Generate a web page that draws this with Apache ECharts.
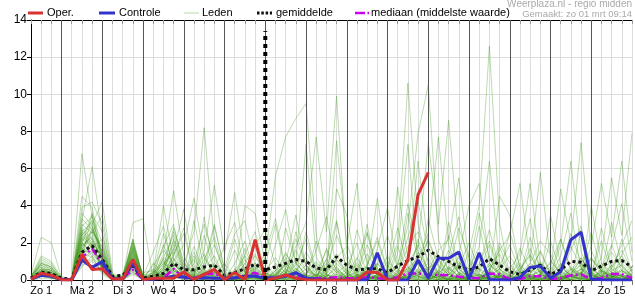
<!DOCTYPE html>
<html>
<head>
<meta charset="utf-8">
<script src="https://cdn.jsdelivr.net/npm/echarts@6/dist/echarts.min.js"></script>
<style>
html,body{margin:0;padding:0;background:#fff;}
#chart{width:635px;height:300px;}
</style>
</head>
<body>
<div id="chart"></div>
<script>
// ---------- DATA ----------
const dayLabels = ['Zo 1','Ma 2','Di 3','Wo 4','Do 5','Vr 6','Za 7','Zo 8','Ma 9','Di 10','Wo 11','Do 12','Vr 13','Za 14','Zo 15'];
const startHour = 6;   // first value: zo 1, 06:00
const stepHours = 6;   // 6-hourly values
const markerHour = 144; // vertical marker (za 7, 00:00)
const markerTop = 13.4;
const yTicks = [0,2,4,6,8,10,12,14];

const oper = [0.05,0.36,0.25, 0.02,0.0,1.38,0.57, 0.6,0.05,0.05,1.11, 0.02,0.1,0.1,0.1, 0.43,0.03,0.3,0.57, 0.02,0.4,0.02,2.17, 0.0,0.1,0.27,0.1, 0.02,0.0,0.0,0.0, 0.0,0.0,0.43,0.4, 0.0,0.0,1.1,4.6, 5.8];
const controle = [0.05,0.25,0.2, 0.02,0.0,1.08,0.68, 0.99,0.05,0.05,0.9, 0.02,0.05,0.1,0.2, 0.15,0.1,0.12,0.1, 0.1,0.12,0.2,0.2, 0.1,0.12,0.2,0.4, 0.1,0.05,0.02,0.0, 0.0,0.0,0.02,1.47, 0.0,0.0,0.02,1.08, 0.1,1.17,1.17,1.5, 0.03,1.47,0.02,0.02, 0.0,0.14,0.68,0.75, 0.1,0.45,2.17,2.58, 0.05,0.02,0.0,0.0, 0.0];
const gemiddelde = [0.1,0.42,0.35, 0.1,0.05,1.5,1.85, 1.1,0.2,0.25,0.75, 0.1,0.2,0.35,0.9, 0.55,0.55,0.7,0.8, 0.25,0.4,0.6,0.85, 0.55,0.7,0.9,1.1, 1.0,0.65,0.55,1.25, 0.8,0.55,0.6,0.6, 0.4,0.75,1.05,1.25, 1.6,1.25,1.0,0.7, 0.55,0.7,1.15,0.8, 0.45,0.3,0.55,0.8, 0.3,0.55,1.0,0.95, 0.5,0.75,1.0,1.05, 0.7];
const mediaan = [0.05,0.3,0.25, 0.05,0.02,1.2,1.7, 0.8,0.1,0.1,0.55, 0.05,0.05,0.1,0.6, 0.1,0.1,0.3,0.35, 0.05,0.1,0.2,0.4, 0.1,0.15,0.25,0.25, 0.1,0.1,0.1,0.15, 0.1,0.1,0.15,0.1, 0.05,0.15,0.35,0.35, 0.3,0.27,0.25,0.18, 0.12,0.1,0.35,0.3, 0.05,0.05,0.2,0.2, 0.05,0.1,0.25,0.3, 0.05,0.1,0.32,0.32, 0.1];

const lid01 = [0.1,0.4,0.3, 0.0,0.0,1.8,2.2, 1.1,0.1,0.0,1.4, 0.1,0.2,0.5,1.2, 0.3,0.1,0.4,0.8, 0.2,0.0,0.3,0.6, 0.1,0.3,0.9,0.4, 0.1,0.0,0.2,0.7, 0.1,0.0,0.0,0.3, 0.0,0.4,1.8,2.6, 1.0,0.4,0.7,0.2, 1.5,4.0,12.6,3.1, 0.2,0.1,0.4,0.9, 0.1,0.0,0.3,1.1, 0.6,0.2,0.1,0.5, 0.3];
const lid02 = [0.3,2.3,2.0, 0.1,0.0,2.6,3.1, 0.9,0.0,0.1,1.6, 0.0,0.3,1.2,2.4, 0.6,0.2,0.1,0.4, 0.0,0.1,0.5,1.3, 0.3,0.0,0.2,0.6, 0.2,0.1,1.1,3.2, 0.4,0.0,0.2,0.1, 0.0,0.3,0.6,1.2, 2.1,0.7,0.3,0.1, 0.0,0.2,0.8,0.4, 0.1,0.6,1.4,0.3, 0.0,0.1,0.2,0.9, 0.4,0.1,0.8,1.6, 0.5];
const lid03 = [0.0,0.6,0.4, 0.0,0.1,6.8,3.4, 1.2,0.2,0.0,0.8, 0.0,0.1,0.3,0.6, 0.2,0.0,0.7,1.9, 0.4,0.1,0.0,0.2, 0.0,0.5,1.4,0.6, 0.1,0.0,0.4,1.1, 0.3,1.2,0.2,0.0, 0.0,0.0,0.3,0.9, 0.2,0.1,0.5,2.8, 1.2,0.3,0.1,0.0, 0.0,0.2,0.6,1.5, 0.3,0.0,0.1,0.4, 1.2,0.3,0.0,0.1, 0.2];
const lid04 = [0.2,0.8,0.5, 0.1,0.0,3.2,6.1, 2.4,0.3,0.1,2.1, 0.2,0.0,0.8,1.6, 3.8,0.6,0.2,0.1, 0.0,0.4,1.1,0.3, 0.1,0.0,0.6,2.2, 0.8,0.2,0.0,0.1, 0.0,0.3,1.4,0.5, 0.2,0.0,0.1,0.4, 0.9,0.3,0.0,0.0, 0.2,0.9,2.1,0.6, 0.1,0.0,0.3,0.2, 0.0,0.4,1.8,0.7, 0.1,0.0,0.2,0.3, 0.1];
const lid05 = [0.1,1.1,0.8, 0.2,0.0,4.5,3.9, 1.2,0.0,0.2,2.2, 0.1,0.4,4.0,1.1, 0.2,0.0,0.3,0.5, 0.1,0.0,0.2,0.8, 0.4,0.2,0.0,0.3, 1.5,0.6,0.1,0.0, 0.2,0.9,0.3,0.0, 0.1,0.5,0.2,0.0, 0.0,0.3,1.1,0.4, 0.0,0.0,0.2,0.6, 1.3,0.4,0.1,0.0, 0.3,0.8,0.2,0.1, 0.0,0.6,1.9,0.5, 0.2];
const lid06 = [0.0,0.3,0.2, 0.0,0.0,2.4,3.0, 4.2,0.4,0.0,1.0, 0.0,0.2,1.4,4.8, 1.3,0.2,0.0,0.4, 0.1,0.0,0.9,0.2, 0.0,0.1,0.3,0.1, 0.0,0.0,0.6,1.4, 0.3,0.1,0.0,0.2, 1.0,0.4,0.1,0.0, 0.0,0.2,0.3,0.9, 0.6,0.1,0.0,0.2, 0.4,0.1,0.0,0.3, 0.9,2.2,0.6,0.1, 0.0,0.1,0.4,0.2, 0.0];
const lid07 = [0.1,0.5,0.4, 0.0,0.0,1.6,2.8, 1.5,0.1,0.0,1.8, 0.3,0.1,0.6,2.1, 0.8,2.6,8.2,2.0, 0.3,0.1,0.0,0.2, 0.0,0.0,0.4,1.6, 0.5,0.1,0.0,0.0, 0.2,0.0,0.3,1.3, 0.4,0.1,0.0,0.6, 2.2,0.8,0.3,0.0, 0.0,0.1,0.5,0.2, 0.0,0.3,0.9,0.4, 0.1,0.0,0.0,0.3, 1.1,0.5,0.2,0.0, 0.1];
const lid08 = [0.2,0.9,0.6, 0.1,0.0,3.0,2.5, 3.5,0.2,0.1,3.1, 3.3,0.0,0.2,1.0, 1.9,4.4,1.2,0.3, 0.0,0.2,0.6,0.1, 0.0,0.0,0.1,0.5, 1.2,0.3,0.0,0.1, 0.0,0.2,0.5,0.1, 0.0,0.0,0.2,1.5, 0.6,1.1,0.4,0.0, 0.2,0.0,0.1,0.3, 0.0,0.1,0.6,0.2, 0.3,0.0,0.0,0.1, 0.4,0.2,0.7,1.3, 0.4];
const lid09 = [0.0,0.2,0.1, 0.0,0.0,1.2,1.9, 0.6,0.0,0.3,1.2, 0.4,0.5,0.1,0.3, 0.1,0.4,1.6,5.1, 1.4,4.7,1.1,0.2, 0.0,0.3,0.8,0.2, 0.0,0.1,0.0,0.4, 0.8,0.2,0.0,0.0, 0.3,0.1,0.7,0.2, 0.0,0.0,0.4,1.2, 0.3,0.6,0.1,0.0, 0.2,1.7,0.5,0.0, 0.1,0.3,0.2,0.6, 0.0,0.2,0.1,0.0, 0.3];
const lid10 = [0.1,0.4,0.2, 0.0,0.1,2.0,1.4, 0.8,0.1,0.0,0.6, 0.0,0.3,0.9,0.5, 0.2,0.0,0.5,2.9, 0.6,0.3,4.0,3.6, 0.9,0.2,0.0,0.1, 0.4,1.0,0.3,0.0, 0.0,0.1,0.2,0.5, 0.1,0.0,0.0,0.3, 0.6,0.2,0.0,0.1, 0.0,0.4,1.3,0.3, 0.0,0.0,0.2,0.5, 0.1,0.6,0.3,0.0, 0.0,0.2,0.5,0.8, 0.2];
const lid11 = [0.0,0.1,0.1, 0.0,0.0,0.9,1.1, 0.5,0.0,0.0,0.4, 0.0,0.0,0.2,0.7, 0.1,0.0,0.3,0.4, 0.0,0.2,0.1,0.5, 1.2,5.6,7.7,8.7, 9.5,2.4,0.3,0.1, 0.0,0.2,0.6,0.1, 0.0,0.0,0.1,0.2, 0.0,0.3,0.1,0.0, 0.2,0.0,0.4,0.1, 0.0,0.1,0.0,0.3, 0.7,0.2,0.0,0.0, 0.1,0.4,0.2,0.1, 0.0];
const lid12 = [0.1,0.6,0.3, 0.0,0.0,2.2,1.8, 0.7,0.1,0.2,1.5, 0.1,0.0,0.4,0.9, 0.3,0.1,0.0,0.6, 0.2,0.0,0.4,0.2, 0.0,0.6,0.3,1.8, 3.1,7.7,2.6,9.9, 1.4,0.2,0.0,0.3, 0.0,0.1,0.5,0.2, 0.1,0.0,0.0,0.4, 0.2,0.1,0.9,0.3, 0.0,0.2,0.1,0.0, 0.4,0.1,0.3,1.2, 0.3,0.0,0.1,0.2, 0.1];
const lid13 = [0.0,0.4,0.3, 0.1,0.0,1.4,2.6, 1.8,0.0,0.1,1.1, 0.2,0.6,0.2,0.0, 0.4,1.1,0.3,0.1, 0.0,0.0,0.7,1.4, 0.3,0.1,2.8,0.9, 7.3,1.2,0.4,7.5, 2.0,0.3,0.1,0.0, 0.2,1.4,7.3,0.8, 0.3,0.1,0.0,0.2, 0.5,0.2,0.0,0.0, 0.3,0.9,0.2,0.1, 0.0,0.1,0.5,0.2, 0.0,0.3,0.8,0.2, 0.0];
const lid14 = [0.2,0.7,0.4, 0.0,0.0,1.9,2.3, 1.0,0.2,0.0,0.9, 0.0,0.1,0.6,1.7, 0.5,0.1,0.2,0.0, 0.3,1.6,0.4,0.1, 0.0,0.2,0.5,0.3, 0.0,0.4,1.6,0.5, 0.1,0.0,0.8,2.3, 0.6,2.0,10.6,3.0, 0.8,0.2,0.1,0.0, 0.0,0.6,0.3,0.1, 0.0,0.0,0.3,1.0, 0.2,0.1,0.0,0.4, 0.1,0.0,0.2,0.6, 0.3];
const lid15 = [0.0,0.3,0.2, 0.0,0.0,2.7,2.0, 1.3,0.0,0.1,1.3, 0.2,0.0,0.1,0.5, 0.3,1.5,0.4,0.2, 0.0,0.1,0.3,0.9, 0.4,0.0,0.1,0.6, 0.2,0.0,0.3,1.1, 0.5,0.2,0.0,0.1, 0.4,0.8,2.9,7.9, 10.5,2.2,0.4,0.1, 0.0,0.1,0.6,1.4, 0.2,0.0,0.1,0.3, 1.0,0.4,0.2,0.0, 0.0,0.5,0.3,0.1, 0.2];
const lid16 = [0.1,0.5,0.3, 0.0,0.1,1.5,1.2, 0.4,0.1,0.0,0.7, 0.1,0.2,0.3,1.1, 0.7,0.2,0.0,0.1, 0.0,0.5,1.3,0.6, 0.1,0.0,0.0,0.3, 0.8,0.2,0.0,0.2, 0.1,0.6,0.2,0.0, 0.0,0.3,0.9,1.8, 7.4,3.0,8.6,2.1, 0.3,0.0,0.2,0.1, 0.0,0.4,0.2,0.0, 0.1,0.0,0.6,0.3, 0.0,0.1,0.0,0.4, 0.2];
const lid17 = [0.0,0.2,0.2, 0.0,0.0,1.1,1.6, 0.9,0.0,0.0,0.5, 0.0,0.1,0.2,0.4, 0.1,0.0,0.9,3.0, 0.5,0.1,0.0,0.3, 0.6,0.2,0.1,0.0, 0.0,0.3,0.7,0.2, 0.0,0.1,0.3,0.9, 0.3,0.0,0.4,1.2, 2.5,7.7,1.9,0.3, 0.6,1.8,6.4,0.9, 0.1,0.0,0.2,0.5, 0.3,0.1,0.0,0.2, 0.7,0.2,0.1,0.0, 0.1];
const lid18 = [0.1,0.6,0.5, 0.0,0.0,2.5,1.7, 0.6,0.1,0.1,1.9, 0.2,0.0,0.5,0.8, 0.4,0.0,0.1,0.2, 0.9,0.2,0.0,0.1, 0.0,0.4,0.2,0.0, 0.3,0.9,0.2,0.0, 0.0,0.3,0.1,0.2, 0.0,0.2,0.6,0.3, 0.1,0.0,0.3,0.8, 0.2,0.0,0.5,1.6, 2.4,5.2,1.0,5.8, 1.1,0.3,0.0,0.1, 0.0,0.2,0.6,0.2, 0.0];
const lid19 = [0.0,0.4,0.3, 0.1,0.0,1.3,2.1, 1.6,0.0,0.0,0.8, 0.1,0.3,1.9,0.6, 0.2,0.5,0.1,0.0, 0.2,0.0,0.2,0.7, 0.1,0.0,0.4,0.2, 0.0,0.1,0.0,0.5, 0.2,0.0,0.7,0.3, 0.0,0.1,0.2,0.6, 0.3,0.1,0.6,0.2, 0.0,0.3,0.1,0.2, 0.6,1.4,5.2,0.8, 0.2,1.9,6.4,1.5, 0.3,0.0,0.1,0.5, 0.2];
const lid20 = [0.2,0.8,0.6, 0.0,0.0,3.6,2.9, 1.4,0.2,0.0,1.7, 0.0,0.2,0.7,2.6, 0.9,0.3,0.1,0.4, 0.0,0.3,0.6,0.2, 0.1,0.0,0.2,0.9, 0.3,0.1,0.0,0.1, 0.4,0.1,0.0,0.2, 0.6,0.2,0.1,0.0, 0.0,0.5,0.2,0.1, 0.3,0.0,0.0,0.2, 0.1,0.0,0.4,0.9, 0.5,4.9,2.0,7.4, 1.6,0.4,0.2,0.1, 0.0];
const lid21 = [0.0,0.3,0.4, 0.0,0.0,1.7,1.3, 0.3,0.0,0.2,1.0, 0.1,0.0,0.3,0.2, 0.0,0.2,0.6,0.1, 0.0,0.0,0.1,0.4, 0.2,0.0,0.6,0.3, 0.1,0.0,0.2,0.0, 0.3,0.8,0.2,0.1, 0.0,0.0,0.3,0.1, 0.2,0.0,0.1,0.6, 0.1,0.3,0.0,0.0, 0.2,0.5,0.1,0.0, 0.0,0.2,0.7,0.3, 1.8,5.2,2.3,6.4, 1.5];
const lid22 = [0.1,0.4,0.3, 0.0,0.1,2.9,3.4, 2.0,0.1,0.0,0.6, 0.0,0.4,1.0,0.3, 0.1,0.0,0.2,0.5, 0.0,0.1,0.0,0.2, 0.4,0.1,0.0,0.2, 0.6,0.2,0.1,0.0, 0.0,0.5,0.2,0.1, 0.0,0.1,0.0,0.4, 0.7,0.2,0.0,1.3, 4.0,5.2,0.9,0.2, 0.0,0.1,0.3,0.1, 0.0,0.2,0.1,0.4, 0.3,1.2,5.5,2.4, 7.9];
const lid23 = [0.0,0.5,0.4, 0.0,0.0,2.1,2.6, 1.1,0.0,0.1,1.3, 0.0,0.2,0.9,1.5, 0.3,0.1,0.4,0.2, 0.0,0.6,0.2,0.0, 0.1,0.3,0.1,0.4, 0.2,0.0,0.5,1.2, 1.8,5.2,0.6,4.4, 0.8,0.2,0.0,0.1, 0.0,0.3,1.0,0.4, 0.0,0.1,0.2,0.6, 0.2,0.0,0.0,0.3, 0.1,0.5,0.2,0.0, 0.3,0.1,0.4,0.2, 0.0];
const lid24 = [0.1,0.3,0.2, 0.0,0.0,1.8,2.4, 0.9,0.1,0.0,0.9, 0.1,0.0,0.6,0.3, 0.2,0.0,0.3,0.8, 0.3,0.1,0.0,0.4, 0.2,0.9,0.4,0.1, 0.0,0.2,0.6,4.9, 3.5,0.4,3.0,0.2, 0.3,5.0,1.1,6.4, 1.8,0.3,0.0,0.1, 0.2,0.0,0.4,0.2, 0.0,0.2,0.1,0.0, 0.4,0.1,0.6,0.2, 0.0,0.0,0.3,0.5, 0.1];
const lid25 = [0.0,0.2,0.3, 0.0,0.0,1.0,1.5, 1.9,0.0,0.0,0.7, 0.0,0.1,0.1,0.9, 0.4,0.2,0.0,0.1, 0.0,0.0,0.5,0.2, 0.1,0.2,0.0,0.0, 0.3,0.1,0.0,0.3, 0.1,0.0,0.4,0.1, 0.0,0.1,0.3,0.2, 0.5,1.6,2.2,5.5, 1.0,0.2,0.3,4.5, 3.5,0.6,0.2,0.1, 3.5,0.8,0.2,0.0, 4.0,0.9,0.2,0.1, 0.0];
const lid26 = [0.1,0.7,0.5, 0.0,0.0,2.3,1.9, 0.8,0.1,0.0,2.0, 0.1,0.0,0.4,1.9, 0.6,0.1,2.4,0.5, 0.0,0.2,0.9,1.8, 0.3,0.0,0.2,2.6, 0.8,0.1,0.0,0.2, 0.0,1.1,2.5,0.4, 0.0,0.2,0.5,1.9, 0.4,0.0,0.1,0.3, 0.0,0.8,2.7,0.6, 0.0,0.1,0.7,0.2, 0.0,0.3,1.6,2.9, 0.4,0.0,0.2,1.1, 0.5];
const lid27 = [0.0,0.4,0.4, 0.1,0.0,1.5,2.0, 1.3,0.0,0.0,1.6, 0.2,0.4,2.5,0.7, 0.2,0.9,3.0,1.1, 0.2,0.0,0.1,0.6, 1.4,3.3,0.6,0.1, 0.0,0.3,0.1,0.9, 0.3,0.0,0.2,0.0, 0.6,2.8,0.7,0.2, 0.0,0.4,1.6,0.3, 0.1,0.0,0.2,0.8, 1.9,0.4,0.0,0.1, 0.0,0.7,0.2,0.3, 1.2,0.5,0.1,0.0, 0.2];
const lid28 = [0.2,1.2,0.9, 0.0,0.1,2.8,2.2, 0.5,0.2,0.1,1.1, 0.0,0.0,0.3,1.3, 2.8,0.4,0.1,0.9, 0.3,2.2,0.4,0.0, 0.0,0.1,1.5,0.4, 0.1,2.1,0.3,0.0, 0.0,0.2,0.1,0.8, 2.4,0.6,0.0,0.3, 1.2,0.2,3.1,0.6, 0.2,0.0,0.1,0.4, 0.0,0.3,2.3,0.5, 0.0,0.2,0.1,0.6, 0.3,2.1,0.4,0.0, 0.6];
const lid29 = [0.1,0.3,0.1, 0.0,0.0,1.2,3.5, 2.6,0.0,0.0,0.5, 0.0,0.1,0.2,0.6, 0.3,1.8,0.5,0.2, 0.0,0.1,1.7,0.3, 0.0,0.5,0.2,0.8, 2.2,0.4,0.0,0.1, 0.6,2.0,0.3,0.1, 0.0,0.0,0.4,0.9, 0.3,1.3,0.6,0.0, 0.1,0.5,1.9,0.4, 0.0,0.2,0.3,1.6, 0.4,0.0,0.3,0.2, 0.0,0.4,1.5,0.7, 0.3];
const lid30 = [0.0,0.2,0.1, 0.0,0.0,0.8,1.0, 0.4,0.0,0.0,0.3, 0.0,0.0,0.1,0.2, 0.0,0.1,0.0,0.3, 0.1,0.0,0.0,0.1, 0.0,0.2,0.1,0.0, 0.0,0.1,0.3,0.1, 0.0,0.0,0.1,0.2, 0.0,0.1,0.0,0.0, 0.2,0.4,0.1,0.0, 0.0,0.1,0.0,0.2, 0.1,0.0,0.1,0.3, 0.0,0.0,0.2,0.1, 0.0,0.1,0.3,0.2, 0.0];
const lid31 = [0.1,0.5,0.6, 0.1,0.0,1.6,2.7, 1.7,0.1,0.0,2.2, 0.1,0.2,1.1,0.4, 0.0,0.3,1.4,0.2, 0.0,0.4,0.1,0.0, 0.2,0.0,0.3,1.0, 0.2,0.0,1.7,0.5, 0.0,0.1,0.0,0.3, 1.3,0.2,0.1,0.5, 0.0,0.2,0.0,0.9, 0.3,0.0,0.6,0.1, 0.0,0.4,0.1,0.0, 0.2,0.9,0.3,0.1, 0.0,0.3,0.1,0.9, 0.4];
const lid32 = [0.0,0.9,0.7, 0.0,0.0,3.9,4.2, 3.0,0.2,0.0,1.4, 0.0,0.5,0.2,0.1, 0.5,0.0,0.2,0.6, 0.1,0.0,0.3,0.9, 0.5,1.2,0.3,0.1, 0.0,0.0,0.2,0.6, 0.2,0.4,1.9,0.6, 0.1,0.0,0.2,0.4, 0.0,0.0,0.3,0.1, 0.2,0.3,0.0,0.2, 0.0,0.8,0.2,0.1, 0.0,0.1,0.4,0.8, 0.2,0.0,0.1,0.3, 0.1];
const lid33 = [0.1,0.3,0.3, 0.0,0.0,2.0,1.5, 0.7,0.0,0.2,1.8, 0.0,0.1,0.4,2.2, 0.4,0.0,0.6,1.3, 0.2,0.1,0.0,0.3, 0.0,0.2,0.9,0.2, 0.0,0.6,0.1,0.2, 0.0,0.3,0.0,0.1, 0.2,0.1,1.2,0.4, 0.6,0.1,0.0,0.3, 0.0,0.2,0.1,0.3, 0.7,0.2,0.0,0.1, 0.3,0.0,0.2,0.4, 0.1,0.6,0.2,0.0, 0.2];
const lid34 = [0.2,1.0,0.7, 0.0,0.0,2.4,3.2, 1.5,0.1,0.0,1.2, 0.1,0.8,1.6,0.9, 0.2,0.6,0.3,0.0, 0.0,0.2,0.1,0.5, 0.1,0.0,0.4,1.1, 0.5,0.2,0.9,0.4, 0.0,0.2,0.5,0.3, 0.0,0.9,0.3,0.1, 0.4,0.2,0.7,0.2, 0.0,0.1,0.4,0.1, 0.2,0.6,1.3,0.4, 0.0,0.1,0.3,0.6, 0.2,0.9,0.4,0.2, 0.3];
const lid35 = [0.1,0.6,0.4, 0.0,0.0,2.2,2.9, 1.2,0.1,0.0,1.5, 0.1,0.3,1.8,3.0, 0.6,0.2,1.1,2.3, 0.4,0.0,0.3,1.9, 2.7,0.8,0.2,0.0, 0.3,1.6,3.4,0.7, 0.0,0.2,0.8,2.1, 0.5,0.1,3.6,1.0, 0.2,0.5,2.4,0.6, 0.1,2.9,0.5,0.0, 0.2,1.1,3.3,0.4, 0.0,0.6,2.5,0.9, 0.1,2.8,0.6,1.9, 3.2];
const lid36 = [0.0,0.3,0.5, 0.0,0.0,1.4,1.8, 2.2,0.0,0.1,0.9, 0.0,0.9,0.3,1.4, 2.5,0.3,0.0,0.6, 1.8,3.1,0.4,0.1, 0.0,1.9,3.8,0.9, 0.2,0.0,0.6,2.4, 1.1,0.2,0.0,1.7, 3.9,0.6,0.1,2.2, 0.4,0.0,1.3,3.4, 0.6,0.2,0.0,1.8, 0.3,0.0,0.9,2.1, 1.4,0.2,0.0,0.5, 2.6,0.4,3.1,0.8, 0.2];
const lid37 = [0.1,0.9,0.7, 0.1,0.0,3.3,2.7, 1.4,0.2,0.0,1.7, 0.2,1.5,2.9,0.5, 0.1,1.3,0.2,0.0, 0.6,2.5,3.2,0.8, 0.1,0.0,1.2,0.3, 2.6,0.5,0.1,0.3, 0.0,2.7,1.0,0.2, 0.0,0.4,2.3,4.2, 1.5,0.3,0.0,0.7, 2.0,0.5,0.0,0.3, 2.6,0.7,0.1,0.0, 0.3,2.2,0.5,1.2, 0.3,0.0,1.8,4.1, 1.0];
const lid38 = [0.0,0.5,0.3, 0.0,0.0,1.9,3.6, 0.9,0.0,0.0,1.2, 0.0,0.2,0.7,2.8, 1.0,0.2,3.4,0.6, 0.0,0.9,2.1,0.3, 0.8,3.0,0.4,0.1, 0.0,0.8,0.2,3.1, 0.4,0.0,2.6,0.6, 0.2,1.8,0.4,0.0, 3.3,1.1,0.2,0.0, 0.5,3.6,1.2,0.2, 0.0,0.4,1.7,0.3, 2.1,0.5,0.0,2.7, 0.6,0.2,0.0,1.4, 2.3];
const lid39 = [0.1,0.2,0.2, 0.0,0.0,0.7,1.3, 0.6,0.0,0.0,0.4, 0.0,0.1,0.2,0.5, 0.2,0.0,0.4,0.1, 0.0,0.2,0.1,0.3, 0.1,0.0,0.2,0.1, 0.0,0.3,0.1,0.0, 0.2,0.1,0.0,0.3, 0.1,0.0,0.2,0.5, 0.1,0.3,0.0,0.2, 0.0,0.1,0.4,0.1, 0.0,0.2,0.1,0.3, 0.1,0.0,0.2,0.1, 0.3,0.1,0.0,0.2, 0.1];
const lid40 = [0.2,1.3,1.0, 0.1,0.0,2.6,1.9, 0.6,0.1,0.3,2.0, 0.1,0.0,1.2,0.8, 0.3,3.2,0.6,0.1, 0.2,0.0,1.4,2.6, 0.4,0.1,0.9,3.5, 0.7,0.2,1.1,0.4, 0.1,0.0,0.3,0.9, 0.2,0.7,4.1,1.5, 0.3,0.1,0.6,1.0, 0.2,0.0,0.4,2.0, 0.9,0.1,0.0,0.8, 0.2,1.3,3.6,0.6, 0.0,0.5,0.2,2.2, 0.4];

const leden = [lid01,lid02,lid03,lid04,lid05,lid06,lid07,lid08,lid09,lid10,lid11,lid12,lid13,lid14,lid15,lid16,lid17,lid18,lid19,lid20,
               lid21,lid22,lid23,lid24,lid25,lid26,lid27,lid28,lid29,lid30,lid31,lid32,lid33,lid34,lid35,lid36,lid37,lid38,lid39,lid40];

// ---------- CHART ----------
const FONT = '"Liberation Sans", Arial, sans-serif';
const C_OPER = '#d83232', C_CTRL = '#3333cc', C_MED = '#cc00ee';
const C_LID = 'rgba(60,150,20,0.34)';

const toXY = arr => arr.map((v, i) => [startHour + i * stepHours, v]);
const maxHour = startHour + (controle.length - 1) * stepHours;

const dayBoundaries = [];
for (let d = 1; d < dayLabels.length; d++) dayBoundaries.push({ xAxis: d * 24 });

const series = [];
series.push({
  type: 'line', data: [[startHour, 0]], symbol: 'none', silent: true,
  lineStyle: { opacity: 0 }, z: 1,
  markLine: { silent: true, symbol: 'none', label: { show: false },
    lineStyle: { color: '#555', type: 'solid', width: 1 }, data: dayBoundaries }
});
leden.forEach(arr => series.push({
  name: 'Leden', type: 'line', data: toXY(arr), symbol: 'none', silent: true,
  lineStyle: { color: C_LID, width: 1 }, z: 2
}));
series.push({ name: 'mediaan (middelste waarde)', type: 'line', data: toXY(mediaan), symbol: 'none',
  lineStyle: { color: C_MED, width: 2.5, type: [8, 3, 2, 3] }, z: 3 });
series.push({ name: 'gemiddelde', type: 'line', data: toXY(gemiddelde), symbol: 'none',
  lineStyle: { color: '#111', width: 3, type: [3, 3] }, z: 4 });
series.push({ name: 'Controle', type: 'line', data: toXY(controle), symbol: 'none',
  lineStyle: { color: C_CTRL, width: 3 }, z: 5 });
series.push({ name: 'Oper.', type: 'line', data: toXY(oper), symbol: 'none',
  lineStyle: { color: C_OPER, width: 3 }, z: 6 });
series.push({ type: 'line', data: [[markerHour, 0], [markerHour, markerTop]], symbol: 'none', silent: true,
  lineStyle: { color: '#000', width: 4, type: [4, 4] }, z: 7 });

// legend drawn as graphics
const LY = 13;
const lg = [];
function lgLine(x1, x2, style) { lg.push({ type: 'line', shape: { x1, y1: LY, x2, y2: LY }, style }); }
function lgText(x, t) { lg.push({ type: 'text', x, y: LY, style: { text: t, font: '11px ' + FONT, fill: '#000', textVerticalAlign: 'middle' } }); }
lgLine(28, 43, { stroke: C_OPER, lineWidth: 3 });           lgText(47, 'Oper.');
lgLine(99, 115, { stroke: C_CTRL, lineWidth: 3 });          lgText(119, 'Controle');
lgLine(184, 199, { stroke: 'rgba(60,150,20,0.3)', lineWidth: 1.2 }); lgText(202, 'Leden');
lgLine(257, 272, { stroke: '#111', lineWidth: 3, lineDash: [2.5, 1.8] }); lgText(276, 'gemiddelde');
lgLine(355, 365, { stroke: C_MED, lineWidth: 2.5 });
lgLine(367.5, 369, { stroke: C_MED, lineWidth: 2.5 });      lgText(371, 'mediaan (middelste waarde)');
lg.push({ type: 'text', right: 3, top: -1, style: { text: 'Weerplaza.nl - regio midden', font: '10px ' + FONT, fill: '#aaa' } });
lg.push({ type: 'text', right: 3, top: 9, style: { text: 'Gemaakt: zo 01 mrt 09:14', font: '9.5px ' + FONT, fill: '#aaa' } });

const chart = echarts.init(document.getElementById('chart'), null, { renderer: 'canvas' });
chart.setOption({
  animation: false,
  backgroundColor: '#fff',
  grid: { left: 31, right: 0, top: 20, bottom: 20, containLabel: false },
  xAxis: [{
    type: 'value', min: startHour, max: maxHour, interval: stepHours, position: 'bottom',
    axisLine: { lineStyle: { color: '#000', width: 1 } },
    axisTick: { show: true, length: 5, lineStyle: { color: '#777' } },
    splitLine: { show: true, lineStyle: { color: '#dcdcdc', width: 1 } },
    axisLabel: { fontFamily: FONT, fontSize: 11, color: '#000', margin: 5, showMinLabel: true, showMaxLabel: true,
      formatter: v => ((v - 12) % 24 === 0 ? dayLabels[(v - 12) / 24] : '') }
  }, {
    type: 'value', min: startHour, max: maxHour, interval: stepHours, position: 'top',
    axisLine: { show: true, lineStyle: { color: '#000', width: 1 } },
    axisTick: { show: true, inside: true, length: 4, lineStyle: { color: '#999' } },
    splitLine: { show: false }, axisLabel: { show: false }
  }],
  yAxis: {
    type: 'value', min: yTicks[0], max: yTicks[yTicks.length - 1], interval: 2,
    axisLine: { show: true, lineStyle: { color: '#000', width: 1 } },
    axisTick: { show: true, length: 4, lineStyle: { color: '#000' } },
    splitLine: { show: true, lineStyle: { color: '#dcdcdc', width: 1 } },
    axisLabel: { fontFamily: FONT, fontSize: 12, color: '#000', margin: 4 }
  },
  graphic: lg,
  series: series
});
</script>
</body>
</html>
